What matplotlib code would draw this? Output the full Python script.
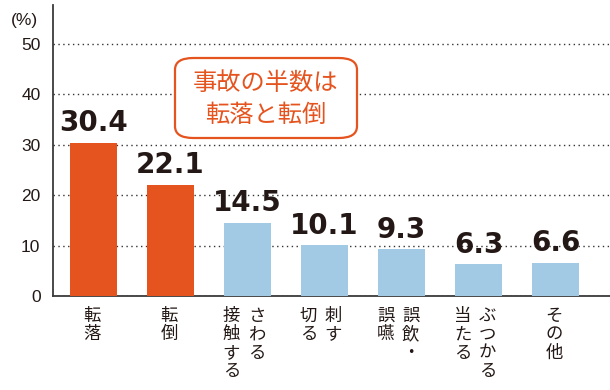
import matplotlib.pyplot as plt
from matplotlib.patches import FancyBboxPatch

# data
categories = [["転落"], ["転倒"], ["接触する", "さわる"], ["切る", "刺す"],
              ["誤嚥", "誤飲・"], ["当たる", "ぶつかる"], ["その他"]]
values = [30.4, 22.1, 14.5, 10.1, 9.3, 6.3, 6.6]
highlight = [True, True, False, False, False, False, False]
yticks = [0, 10, 20, 30, 40, 50]
note = "事故の半数は\n転落と転倒"

ORANGE = "#E5541F"
BLUE = "#A2CAE4"
INK = "#231815"

plt.rcParams["font.family"] = ["Liberation Sans", "DejaVu Sans"]
JP = ["Noto Sans CJK JP", "DejaVu Sans"]

fig = plt.figure(figsize=(6.1, 3.9), dpi=100)
ax = fig.add_axes([53 / 610, 94 / 390, 1 - 53 / 610, (296 - 5) / 390])

x = list(range(len(values)))
colors = [ORANGE if h else BLUE for h in highlight]
ax.bar(x, values, width=0.61, color=colors, zorder=3)

ax.set_xlim(-0.526, 6.708)
ax.set_ylim(0, 57.7)
ax.set_yticks(yticks)
ax.set_yticklabels([str(t) for t in yticks], fontsize=12.5, color=INK)
ax.tick_params(axis="y", length=0, pad=9)
ax.set_xticks([])
ax.yaxis.grid(True, linestyle=(0, (1, 2.5)), color="#333333", linewidth=1.0, zorder=1)
ax.set_axisbelow(True)
for s in ["top", "right"]:
    ax.spines[s].set_visible(False)
for s in ["left", "bottom"]:
    ax.spines[s].set_color("#3a3a3a")
    ax.spines[s].set_linewidth(1.3)

# value labels
for xi, v in zip(x, values):
    ax.annotate(f"{v:.1f}", (xi, v), xytext=(0, 4), textcoords="offset points",
                ha="center", va="bottom", fontsize=20, fontweight="bold",
                color=INK, family=["DejaVu Sans"])

# vertical Japanese category labels
for xi, cols in zip(x, categories):
    if len(cols) == 1:
        offs = [-1]
    else:
        offs = [-11.5, 6.5]
    for off, col in zip(offs, cols):
        ax.annotate("\n".join(col), (xi, 0), xytext=(off, -8), textcoords="offset points",
                    ha="center", va="top", fontsize=12.5, color=INK, family=JP,
                    linespacing=1.02, annotation_clip=False)

# note box
box = FancyBboxPatch((175 / 610, (390 - 138) / 390), (357 - 175) / 610, (138 - 58) / 390,
                     boxstyle="round,pad=0,rounding_size=0.03", transform=fig.transFigure,
                     facecolor="white", edgecolor=ORANGE, linewidth=1.6, zorder=5)
fig.patches.append(box)
fig.text(266 / 610, 1 - 99 / 390, note, ha="center", va="center", fontsize=17.5,
         color=ORANGE, family=JP, linespacing=1.25, zorder=6)

fig.text(24 / 610, 1 - 20 / 390, "(%)", ha="center", va="center", fontsize=12.5, color=INK)

fig.savefig("out.png", dpi=100)
